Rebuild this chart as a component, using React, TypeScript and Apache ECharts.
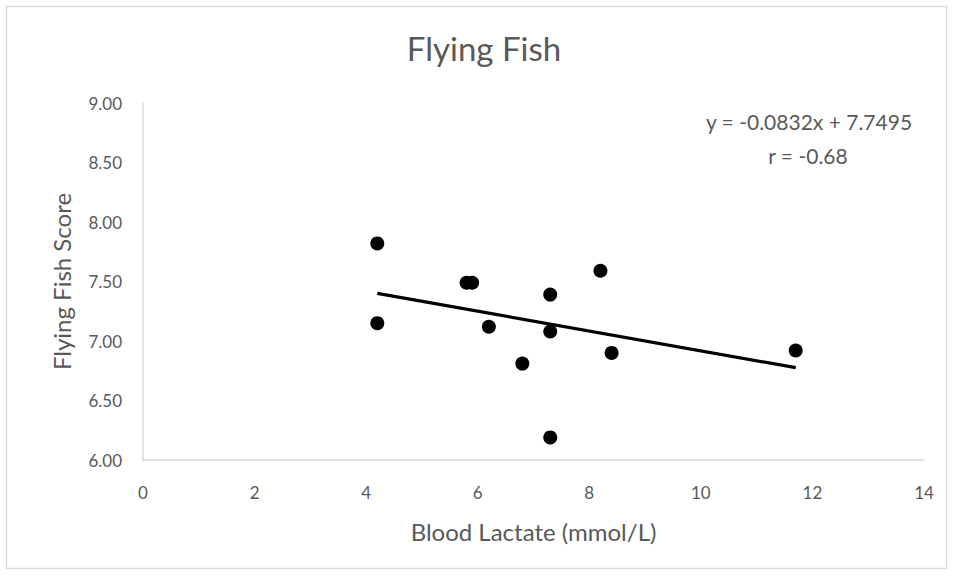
import React, { useEffect, useRef } from "react";
import * as echarts from "echarts";

// Data
const bloodLactate = [4.2, 4.2, 5.8, 5.9, 6.2, 6.8, 7.3, 7.3, 7.3, 8.2, 8.4, 11.7];
const flyingFishScore = [7.82, 7.15, 7.49, 7.49, 7.12, 6.81, 7.39, 7.08, 6.19, 7.59, 6.9, 6.92];

const trendSlope = -0.0832;
const trendIntercept = 7.7495;
const trendXRange = [4.2, 11.7];

const titleText = "Flying Fish";
const xAxisName = "Blood Lactate (mmol/L)";
const yAxisName = "Flying Fish Score";
const equationLines = ["y = -0.0832x + 7.7495", "r = -0.68"];

const FONT = "Lato, 'Noto Sans', sans-serif";
const TEXT_COLOR = "#595959";
const AXIS_COLOR = "#D9D9D9";

export default function App() {
  const ref = useRef<HTMLDivElement>(null);

  useEffect(() => {
    if (!ref.current) return;
    const chart = echarts.init(ref.current, undefined, { renderer: "svg" });

    const points = bloodLactate.map((x, i) => [x, flyingFishScore[i]]);
    const trend = trendXRange.map((x) => [x, trendIntercept + trendSlope * x]);

    chart.setOption({
      animation: false,
      backgroundColor: "#ffffff",
      grid: { left: 143, right: 30, top: 103, bottom: 115, containLabel: false },
      xAxis: {
        type: "value",
        min: 0,
        max: 14,
        interval: 2,
        name: xAxisName,
        nameLocation: "middle",
        nameGap: 59,
        nameTextStyle: { color: TEXT_COLOR, fontSize: 24, fontFamily: FONT },
        axisLine: { show: true, lineStyle: { color: AXIS_COLOR, width: 1.5 } },
        axisTick: { show: false },
        splitLine: { show: false },
        axisLabel: { color: TEXT_COLOR, fontSize: 17, fontFamily: FONT, margin: 24 },
      },
      yAxis: {
        type: "value",
        min: 6,
        max: 9,
        interval: 0.5,
        name: yAxisName,
        nameLocation: "middle",
        nameGap: 70,
        nameRotate: 90,
        nameTextStyle: { color: TEXT_COLOR, fontSize: 24, fontFamily: FONT },
        axisLine: { show: true, lineStyle: { color: AXIS_COLOR, width: 1.5 } },
        axisTick: { show: false },
        splitLine: { show: false },
        axisLabel: {
          color: TEXT_COLOR,
          fontSize: 17,
          fontFamily: FONT,
          margin: 21,
          formatter: (v: number) => v.toFixed(2),
        },
      },
      series: [
        {
          type: "line",
          data: trend,
          symbol: "none",
          lineStyle: { color: "#000000", width: 3.2 },
          z: 2,
        },
        {
          type: "scatter",
          data: points,
          symbol: "circle",
          symbolSize: 14,
          itemStyle: { color: "#000000", opacity: 1 },
          z: 3,
        },
      ],
      graphic: [
        {
          type: "rect",
          shape: { x: 6.5, y: 6.5, width: 940, height: 562 },
          style: { fill: "none", stroke: AXIS_COLOR, lineWidth: 1.5 },
          silent: true,
        },
        {
          type: "text",
          x: 484,
          y: 48,
          style: {
            text: titleText,
            fill: TEXT_COLOR,
            font: `33px ${FONT}`,
            textAlign: "center",
            textVerticalAlign: "middle",
          },
        },
        {
          type: "text",
          x: 809,
          y: 121,
          style: {
            text: equationLines[0],
            fill: TEXT_COLOR,
            font: `21px ${FONT}`,
            textAlign: "center",
            textVerticalAlign: "middle",
          },
        },
        {
          type: "text",
          x: 808,
          y: 155,
          style: {
            text: equationLines[1],
            fill: TEXT_COLOR,
            font: `21px ${FONT}`,
            textAlign: "center",
            textVerticalAlign: "middle",
          },
        },
      ],
    });

    return () => chart.dispose();
  }, []);

  return (
    <div
      ref={ref}
      style={{ position: "fixed", left: 0, top: 0, width: 954, height: 575 }}
    />
  );
}
